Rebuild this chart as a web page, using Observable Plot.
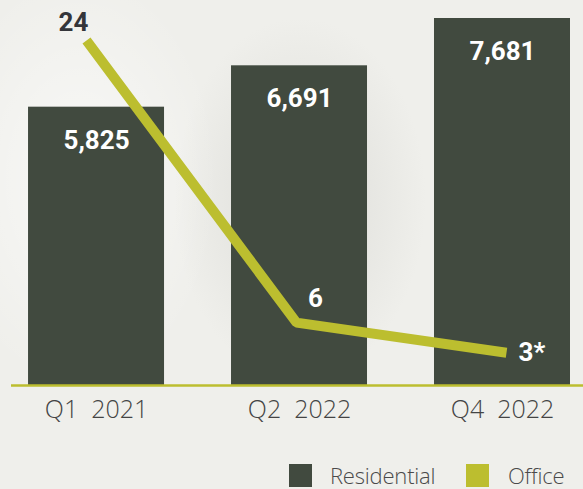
<!DOCTYPE html>
<html>
<head>
<meta charset="utf-8">
<script src="https://cdn.jsdelivr.net/npm/d3@7"></script>
<script src="https://cdn.jsdelivr.net/npm/@observablehq/plot@0.6"></script>
<style>
  html, body { margin: 0; padding: 0; }
  body {
    width: 583px; height: 489px; overflow: hidden;
    background:
      radial-gradient(ellipse 180px 260px at 300px 200px, rgba(205,205,200,0.55), rgba(205,205,200,0) 70%),
      radial-gradient(ellipse 200px 300px at 80px 180px, rgba(255,255,255,0.6), rgba(255,255,255,0) 70%),
      #efefeb;
  }
  #wrap { position: relative; width: 583px; height: 489px; }
  #wrap > svg, #wrap > figure { position: absolute; left: 0; top: 0; margin: 0; background: transparent; }
  #legend {
    position: absolute; left: 0; top: 464px; width: 583px; height: 23px;
    font-family: "Open Sans", sans-serif; font-weight: 300; font-size: 22px; color: #4a4a4a;
  }
  .sw { position: absolute; top: 0; width: 23px; height: 23px; }
  .lt { position: absolute; top: -1px; line-height: 24px; letter-spacing: -0.2px; }
</style>
</head>
<body>
<div id="wrap"></div>
<script>
const categories = ["Q1  2021", "Q2  2022", "Q4  2022"];
const residential = [5825, 6691, 7681];
const office = [24, 6, 3];
const officeLabels = ["24", "6", "3*"];
const seriesNames = ["Residential", "Office"];
const colors = ["#414a3f", "#bcbe2f"];

const barData = categories.map((c, i) => ({cat: c, value: residential[i], label: d3.format(",")(residential[i])}));
const lineData = categories.map((c, i) => ({cat: c, value: office[i], label: officeLabels[i], i}));

const boldFont = "Roboto, 'Open Sans', sans-serif";

const barsPlot = Plot.plot({
  width: 583,
  height: 430,
  marginLeft: 11,
  marginRight: 0,
  marginTop: 18,
  marginBottom: 45,
  style: {background: "transparent", overflow: "visible"},
  x: {domain: categories, paddingInner: 0.33, paddingOuter: 0.074, align: 0.567, round: false, label: null},
  y: {domain: [0, 7681], axis: null},
  marks: [
    Plot.barY(barData, {x: "cat", y: "value", fill: colors[0]}),
    Plot.text(barData, {x: "cat", y: "value", text: "label", dy: 33, fill: "white",
      fontSize: 26, fontWeight: 700, fontFamily: boldFont}),
    Plot.ruleY([0], {stroke: colors[1], strokeWidth: 2.5}),
    Plot.axisX({tickSize: 0, tickPadding: 15, fontSize: 25, fontFamily: "'Open Sans', sans-serif",
      fontWeight: 300, fill: "#444", label: null})
  ]
});

const lineMarkBase = {x: "cat", y: "value", text: "label", fontSize: 26, fontWeight: 700, fontFamily: boldFont};
const linePlot = Plot.plot({
  width: 583,
  height: 430,
  marginLeft: 86,
  marginRight: 77,
  marginTop: 0,
  marginBottom: 0,
  style: {background: "transparent", overflow: "visible"},
  x: {type: "point", domain: categories, padding: 0, axis: null},
  y: {type: "pow", exponent: 1.38, domain: [0, 24], range: [371, 40], axis: null},
  marks: [
    Plot.line(lineData, {x: "cat", y: "value", stroke: colors[1], strokeWidth: 10,
      strokeLinejoin: "miter", strokeLinecap: "butt"}),
    Plot.text(lineData.filter(d => d.i === 0), {...lineMarkBase, fill: "#34353a", dx: -13, dy: -18}),
    Plot.text(lineData.filter(d => d.i === 1), {...lineMarkBase, fill: "white", dx: 19, dy: -24}),
    Plot.text(lineData.filter(d => d.i === 2), {...lineMarkBase, fill: "white", dx: 12, dy: 0, textAnchor: "start"})
  ]
});

const wrap = document.getElementById("wrap");
wrap.appendChild(barsPlot);
wrap.appendChild(linePlot);

const legend = document.createElement("div");
legend.id = "legend";
legend.innerHTML = `
  <div class="sw" style="left:289px;background:${colors[0]}"></div>
  <div class="lt" style="left:330px">${seriesNames[0]}</div>
  <div class="sw" style="left:466px;background:${colors[1]}"></div>
  <div class="lt" style="left:508px">${seriesNames[1]}</div>`;
wrap.appendChild(legend);
</script>
</body>
</html>
